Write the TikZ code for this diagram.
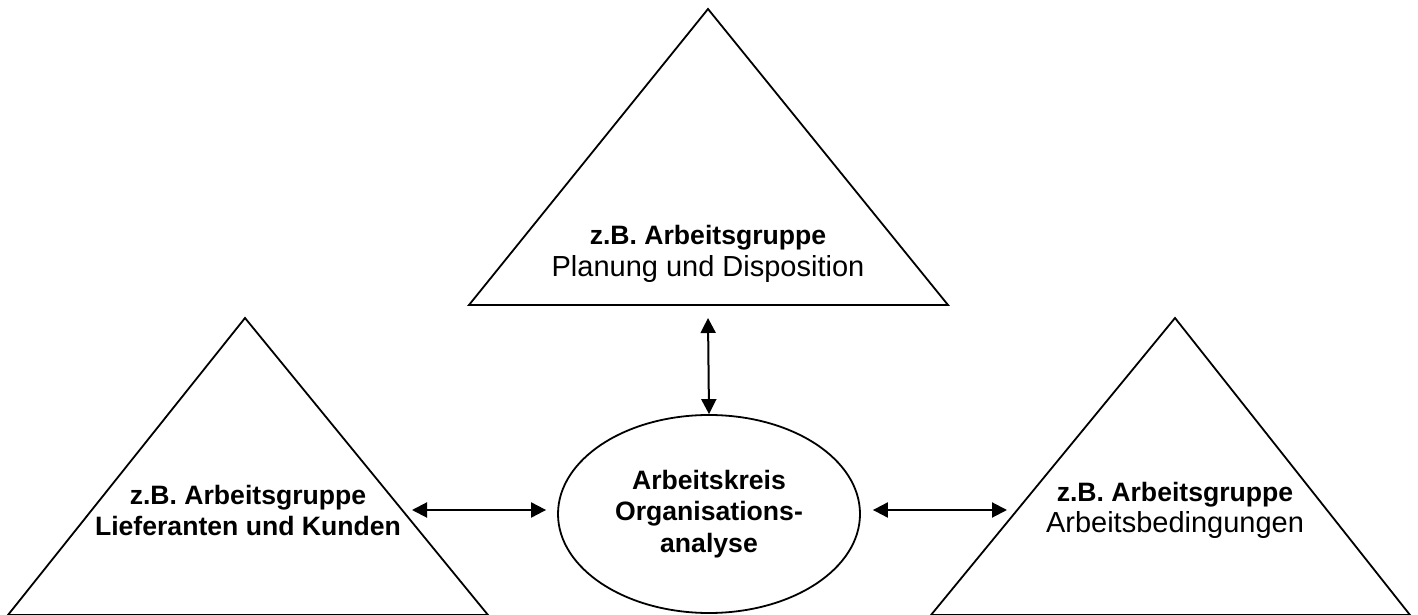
\documentclass[tikz,border=0pt]{standalone}
\usepackage{fontspec}
\setmainfont{Liberation Sans}
\usetikzlibrary{arrows.meta,shapes.geometric}
\tikzset{
  dreieck/.style={draw=black, line width=1.8pt, line join=miter},
  bez/.style={align=center, font=\fontsize{26.6}{31.5}\selectfont},
  pfeil/.style={line width=2pt, {Triangle[length=15pt,width=15pt]}-{Triangle[length=15pt,width=15pt]}}
}
\begin{document}
\begin{tikzpicture}[x=1pt,y=1pt]
            \useasboundingbox (0,0) rectangle (1418,615);
            % Dreiecke
            \draw[dreieck] (469,310) -- (708,606) -- (948,310) -- cycle;
            \draw[dreieck] (8,0) -- (245,297) -- (488,0) -- cycle;
            \draw[dreieck] (931,0) -- (1175,297) -- (1410,0) -- cycle;
            \coordinate (obenfuss) at (708,297);
            \coordinate (linksende) at (412,105);
            \coordinate (rechtsende) at (1007,105);
            % Texte
            \node[bez] (oben) at (708,361) {\textbf{z.B. Arbeitsgruppe}\\{\fontsize{29}{31.5}\selectfont Planung und Disposition}};
            \node[bez] (links) at (248,104.5) {\textbf{z.B. Arbeitsgruppe}\\\textbf{Lieferanten und Kunden}};
            \node[bez] (rechts) at (1175,104.5) {\textbf{z.B. Arbeitsgruppe}\\{\fontsize{29}{31.5}\selectfont Arbeitsbedingungen}};
            \node[ellipse, draw=black, line width=1.8pt, minimum width=302pt, minimum height=198pt, inner sep=0pt,
                  bez] (kreis) at (709,101) {\textbf{Arbeitskreis}\\\textbf{Organisations-}\\\textbf{analyse}};
            % Pfeile
            \draw[pfeil] (obenfuss) -- (kreis.north);
            \draw[pfeil] (linksende) -- ([xshift=-11pt]kreis.west |- linksende);
            \draw[pfeil] ([xshift=12pt]kreis.east |- rechtsende) -- (rechtsende);
        \end{tikzpicture}
\end{document}
